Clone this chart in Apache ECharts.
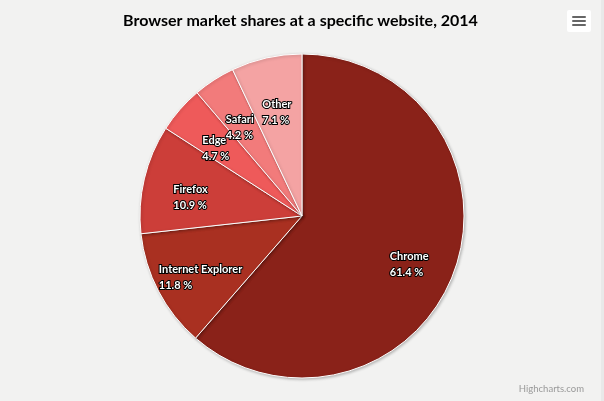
<!DOCTYPE html>
<html>
<head>
<meta charset="utf-8">
<script src="https://cdn.jsdelivr.net/npm/echarts@6/dist/echarts.min.js"></script>
<style>
html,body{margin:0;padding:0;background:#e9e9e9;}
#chart{width:601px;height:401px;background:#f2f2f1;}
</style>
</head>
<body>
<div id="chart"></div>
<script>
var categories = ['Chrome', 'Internet Explorer', 'Firefox', 'Edge', 'Safari', 'Other'];
var shares = [61.41, 11.84, 10.85, 4.67, 4.18, 7.05];
var sliceColors = ['#8a2219', '#a93021', '#cc3e39', '#ee5a5a', '#f27b7b', '#f4a3a3'];
var titleText = 'Browser market shares at a specific website, 2014';
var creditText = 'Highcharts.com';

var fontFamily = 'Lato, "Open Sans", sans-serif';
var data = categories.map(function (c, i) {
  return { name: c, value: shares[i], itemStyle: { color: sliceColors[i] } };
});
function fmt(v) { return (Math.round(v * 10 + 1e-9) / 10).toFixed(1); }

var chart = echarts.init(document.getElementById('chart'));
chart.setOption({
  backgroundColor: '#f2f2f1',
  animation: false,
  title: [{
    text: titleText,
    left: 'center',
    top: 8,
    textStyle: { fontFamily: fontFamily, fontSize: 16, fontWeight: 'bold', color: '#000' }
  }, {
    text: creditText,
    right: 12,
    bottom: 2,
    textStyle: { fontFamily: fontFamily, fontSize: 9.5, fontWeight: 'normal', color: '#999' }
  }],
  graphic: [{
    type: 'group',
    right: 10,
    top: 10,
    children: [
      { type: 'rect', shape: { x: 0, y: 0, width: 24, height: 22, r: 2 }, style: { fill: '#ffffff' } },
      { type: 'rect', shape: { x: 5, y: 6, width: 14, height: 2, r: 1 }, style: { fill: '#666' } },
      { type: 'rect', shape: { x: 5, y: 10, width: 14, height: 2, r: 1 }, style: { fill: '#666' } },
      { type: 'rect', shape: { x: 5, y: 14, width: 14, height: 2, r: 1 }, style: { fill: '#666' } }
    ]
  }],
  series: [{
    type: 'pie',
    center: [302, 216],
    radius: [0, 162],
    startAngle: 90,
    clockwise: true,
    silent: true,
    data: data,
    label: { show: false },
    labelLine: { show: false },
    itemStyle: {
      borderColor: '#ffffff',
      borderWidth: 1,
      shadowBlur: 3,
      shadowColor: 'rgba(0,0,0,0.25)',
      shadowOffsetX: 1,
      shadowOffsetY: 1
    }
  }, {
    type: 'pie',
    center: [302, 224],
    radius: [20, 203],
    startAngle: 90,
    clockwise: true,
    silent: true,
    z: 5,
    labelLayout: { hideOverlap: false },
    data: data.map(function (d) { return { name: d.name, value: d.value }; }),
    itemStyle: { color: 'rgba(0,0,0,0)', borderWidth: 0 },
    labelLine: { show: false },
    label: {
      show: true,
      position: 'inside',
      formatter: function (p) {
        return '{a|' + p.name + '}\n{a|' + fmt(p.value) + ' %}';
      },
      rich: {
        a: {
          align: 'left',
          color: '#ffffff',
          fontFamily: fontFamily,
          fontSize: 11,
          fontWeight: 'bold',
          lineHeight: 16,
          textBorderColor: '#000000',
          textBorderWidth: 2
        }
      }
    }
  }]
});
</script>
</body>
</html>
